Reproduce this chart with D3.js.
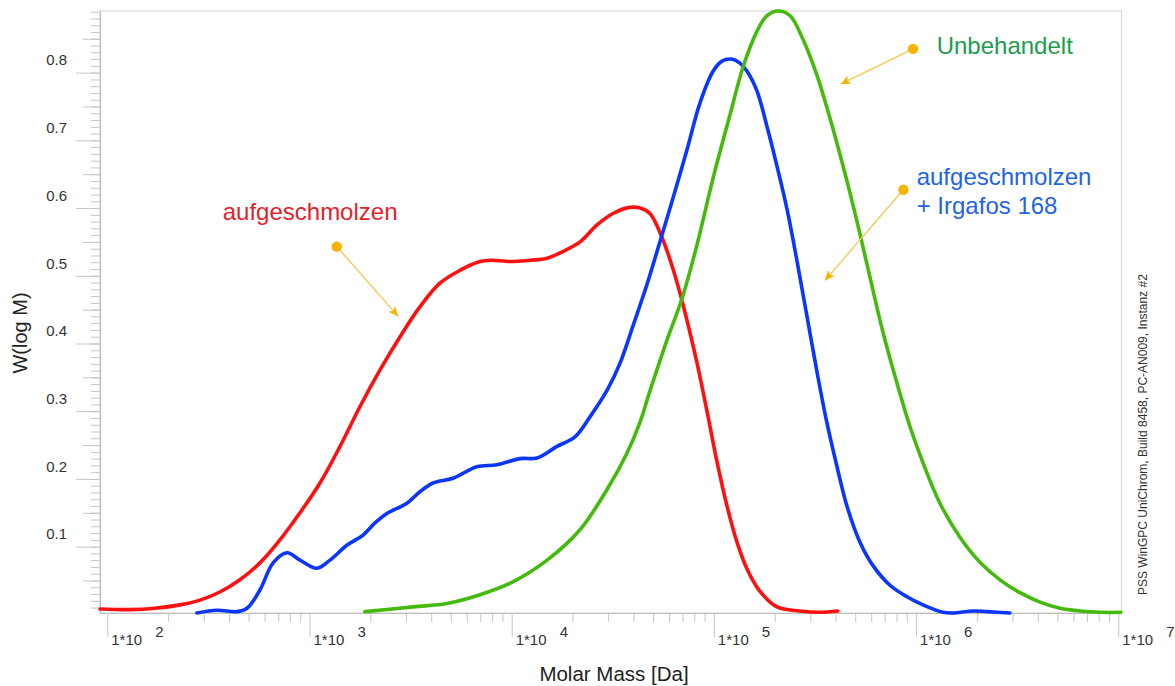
<!DOCTYPE html>
<html>
<head>
<meta charset="utf-8">
<title>W(log M)</title>
<script src="https://cdnjs.cloudflare.com/ajax/libs/d3/7.8.5/d3.min.js"></script>
<style>
    html, body{
        margin: 0px;
        padding: 0px;
        background: #fff;
        font-family: "Liberation Sans", Arial, sans-serif;
    }
    #vis{
        position: absolute;
        top: 0px;
        left: 0px;
    }
</style>
</head>
<body>
<div id="vis"></div>
<script>

// log10(M) and W(log M)
var unbehandeltLogM = [3.274, 3.512, 3.680, 3.843, 4.006, 4.175, 4.338, 4.471, 4.570, 4.635,
    4.684, 4.768, 4.842, 4.916, 4.996, 5.080, 5.144, 5.213, 5.263, 5.317,
    5.377, 5.441, 5.510, 5.575, 5.639, 5.708, 5.772, 5.836, 5.906, 5.970,
    6.034, 6.118, 6.217, 6.316, 6.415, 6.514, 6.613, 6.712, 6.811, 6.910, 7.013];
var unbehandeltW = [0.004, 0.011, 0.016, 0.029, 0.048, 0.080, 0.125, 0.184, 0.238, 0.284,
    0.330, 0.405, 0.466, 0.545, 0.644, 0.738, 0.808, 0.861, 0.884, 0.891,
    0.884, 0.849, 0.796, 0.732, 0.662, 0.580, 0.498, 0.417, 0.341, 0.277,
    0.224, 0.164, 0.114, 0.077, 0.051, 0.032, 0.018, 0.009, 0.005, 0.003, 0.003];

var aufgeschmolzenLogM = [1.964, 2.112, 2.236, 2.360, 2.458, 2.557, 2.656, 2.755, 2.854, 2.953,
    3.052, 3.151, 3.250, 3.349, 3.448, 3.546, 3.645, 3.744, 3.843, 3.893,
    3.992, 4.091, 4.175, 4.254, 4.338, 4.422, 4.501, 4.585, 4.635, 4.684,
    4.743, 4.798, 4.847, 4.916, 4.966, 5.015, 5.065, 5.114, 5.164, 5.228,
    5.312, 5.425, 5.524, 5.613];
var aufgeschmolzenW = [0.008, 0.007, 0.009, 0.014, 0.021, 0.033, 0.051, 0.076, 0.110, 0.150,
    0.194, 0.248, 0.307, 0.361, 0.410, 0.454, 0.489, 0.508, 0.521, 0.523,
    0.521, 0.523, 0.526, 0.536, 0.550, 0.575, 0.592, 0.601, 0.600, 0.592,
    0.557, 0.510, 0.458, 0.372, 0.300, 0.226, 0.160, 0.107, 0.067, 0.034,
    0.011, 0.005, 0.003, 0.005];

var irgafosLogM = [2.443, 2.542, 2.641, 2.691, 2.755, 2.820, 2.889, 2.953, 3.037, 3.101,
    3.185, 3.265, 3.324, 3.383, 3.482, 3.546, 3.611, 3.710, 3.828, 3.927,
    4.041, 4.125, 4.224, 4.313, 4.388, 4.472, 4.536, 4.600, 4.669, 4.734,
    4.798, 4.867, 4.931, 4.996, 5.040, 5.085, 5.129, 5.164, 5.213, 5.263,
    5.312, 5.362, 5.411, 5.460, 5.510, 5.559, 5.609, 5.658, 5.722, 5.787,
    5.871, 5.955, 6.034, 6.133, 6.182, 6.281, 6.350, 6.464];
var irgafosW = [0.002, 0.006, 0.004, 0.009, 0.036, 0.076, 0.091, 0.080, 0.068, 0.080,
    0.102, 0.117, 0.135, 0.149, 0.164, 0.181, 0.194, 0.201, 0.218, 0.221,
    0.230, 0.231, 0.248, 0.262, 0.292, 0.331, 0.371, 0.426, 0.487, 0.551,
    0.615, 0.686, 0.755, 0.802, 0.817, 0.820, 0.814, 0.802, 0.773, 0.720,
    0.662, 0.598, 0.522, 0.441, 0.358, 0.283, 0.218, 0.160, 0.107, 0.072,
    0.043, 0.026, 0.014, 0.003, 0.002, 0.005, 0.004, 0.002];

var yTickLabels = [0.1, 0.2, 0.3, 0.4, 0.5, 0.6, 0.7, 0.8];
var xDecades = [2, 3, 4, 5, 6, 7];

// annotations: label lines, dot and arrow tip in [log10 M, W]
var noteLines = [["Unbehandelt"], ["aufgeschmolzen", "+ Irgafos 168"], ["aufgeschmolzen"]];
var noteText = [[6.102, 0.828], [6.003, 0.634], [2.571, 0.582]];
var noteDot = [[5.985, 0.835], [5.937, 0.627], [3.135, 0.543]];
var noteTip = [[5.627, 0.783], [5.549, 0.493], [3.439, 0.440]];
var noteColors = ["#1c9c4c", "#2463e6", "#e0232b"];

var width = 1175, height = 686;
var mLeft = 100, mRight = 1121.5, mTop = 11, mBottom = 613;

var x = d3.scaleLog()
    .domain([Math.pow(10, 1.964), Math.pow(10, 7.016)])
    .range([mLeft, mRight]);
var y = d3.scaleLinear()
    .domain([0.002, 0.891])
    .range([mBottom, mTop]);

var svg = d3.select("#vis").append("svg")
    .attr("width", width)
    .attr("height", height)
    .style("font-family", '"Liberation Sans", Arial, sans-serif');

// frame
svg.append("rect")
    .attr("x", mLeft).attr("y", mTop)
    .attr("width", mRight - mLeft).attr("height", mBottom - mTop)
    .attr("fill", "none")
    .attr("stroke", "#dadada")
    .attr("stroke-width", 1.2);

function styleAxis(g){
    g.attr("font-family", null).attr("font-size", null);
    g.selectAll(".tick line").attr("stroke", "#c6c6c6").attr("stroke-width", 1);
    g.select(".domain").attr("stroke", "#bdbdbd").attr("stroke-width", 1.2);
}

// y axis: minor 0.01, medium 0.05, major 0.1
var yMinor = d3.range(1, 90).map(function(i){ return i / 100; });
var yMedium = d3.range(1, 18, 2).map(function(i){ return i * 0.05; });

svg.append("g").attr("transform", "translate(" + mLeft + ",0)")
    .call(d3.axisLeft(y).tickValues(yMinor).tickSize(9).tickFormat(""))
    .call(styleAxis).call(function(g){ g.select(".domain").remove(); });
svg.append("g").attr("transform", "translate(" + mLeft + ",0)")
    .call(d3.axisLeft(y).tickValues(yMedium).tickSize(17).tickFormat(""))
    .call(styleAxis).call(function(g){ g.select(".domain").remove(); });
var yAxis = svg.append("g").attr("transform", "translate(" + mLeft + ",0)")
    .call(d3.axisLeft(y).tickValues(yTickLabels).tickSize(24).tickSizeOuter(0)
        .tickPadding(9).tickFormat(d3.format(".1f")))
    .call(styleAxis);
yAxis.selectAll(".tick text")
    .attr("y", -12.5)
    .attr("fill", "#333")
    .style("font-size", "15px");

// x axis: log, decades long, 2..9 short
var xMinor = [];
for (var n = 1; n <= 6; n++){
    for (var k = 2; k <= 9; k++){
        var v = k * Math.pow(10, n);
        if (v >= x.domain()[0] && v <= x.domain()[1]) xMinor.push(v);
    }
}
var xMajor = xDecades.map(function(e){ return Math.pow(10, e); });

svg.append("g").attr("transform", "translate(0," + mBottom + ")")
    .call(d3.axisBottom(x).tickValues(xMinor).tickSize(9).tickFormat(""))
    .call(styleAxis).call(function(g){ g.select(".domain").remove(); });
var xAxis = svg.append("g").attr("transform", "translate(0," + mBottom + ")")
    .call(d3.axisBottom(x).tickValues(xMajor).tickSize(24).tickSizeOuter(0).tickFormat(""))
    .call(styleAxis);

var xLab = svg.append("g").selectAll("g")
    .data(xDecades)
    .join("g")
    .attr("transform", function(e){ return "translate(" + x(Math.pow(10, e)) + "," + mBottom + ")"; })
    .attr("fill", "#333")
    .style("font-size", "15px");
xLab.append("text").attr("x", 4).attr("y", 32).text("1*10");
xLab.append("text").attr("x", 48).attr("y", 23.5).text(function(e){ return e; });

// axis titles
svg.append("text")
    .attr("transform", "translate(27,333) rotate(-90)")
    .attr("text-anchor", "middle")
    .attr("fill", "#222")
    .style("font-size", "20px")
    .text("W(log M)");
svg.append("text")
    .attr("x", 614).attr("y", 681)
    .attr("text-anchor", "middle")
    .attr("fill", "#222")
    .style("font-size", "20.5px")
    .text("Molar Mass [Da]");

svg.append("text")
    .attr("transform", "translate(1147,595) rotate(-90)")
    .attr("fill", "#333")
    .style("font-size", "12px")
    .text("PSS WinGPC UniChrom, Build 8458, PC-AN009, Instanz #2");

// curves
var line = d3.line()
    .x(function(d){ return x(Math.pow(10, d[0])); })
    .y(function(d){ return y(d[1]); })
    .curve(d3.curveCatmullRom.alpha(0.5));

var series = [
    {name: "aufgeschmolzen", color: "#ff1010", data: d3.zip(aufgeschmolzenLogM, aufgeschmolzenW)},
    {name: "irgafos", color: "#0a36ff", data: d3.zip(irgafosLogM, irgafosW)},
    {name: "unbehandelt", color: "#44bb0c", data: d3.zip(unbehandeltLogM, unbehandeltW)}
];

svg.append("g").selectAll("path")
    .data(series)
    .join("path")
    .attr("d", function(s){ return line(s.data); })
    .attr("fill", "none")
    .attr("stroke", function(s){ return s.color; })
    .attr("stroke-width", 3.6)
    .attr("stroke-linejoin", "round")
    .attr("stroke-linecap", "round");

// annotations
svg.append("defs").append("marker")
    .attr("id", "arrow")
    .attr("viewBox", "0 0 10 10")
    .attr("refX", 10).attr("refY", 5)
    .attr("markerWidth", 10).attr("markerHeight", 10)
    .attr("markerUnits", "userSpaceOnUse")
    .attr("orient", "auto")
    .append("path")
    .attr("d", "M0,0.5 L10,5 L0,9.5 L2.5,5 Z")
    .attr("fill", "#f7b500");

function px(p){ return [x(Math.pow(10, p[0])), y(p[1])]; }

noteLines.forEach(function(lines, i){
    var d = px(noteDot[i]), t = px(noteTip[i]), tx = px(noteText[i]);
    svg.append("line")
        .attr("x1", d[0]).attr("y1", d[1])
        .attr("x2", t[0]).attr("y2", t[1])
        .attr("stroke", "#f8c54c")
        .attr("stroke-width", 1.3)
        .attr("marker-end", "url(#arrow)");
    svg.append("circle")
        .attr("cx", d[0]).attr("cy", d[1]).attr("r", 5.2)
        .attr("fill", "#f7b500");
    var txt = svg.append("text")
        .attr("x", tx[0]).attr("y", tx[1])
        .attr("fill", noteColors[i])
        .style("font-size", "24px");
    lines.forEach(function(l, j){
        txt.append("tspan").attr("x", tx[0]).attr("dy", j ? 28.5 : 0).text(l);
    });
});

</script>
</body>
</html>
